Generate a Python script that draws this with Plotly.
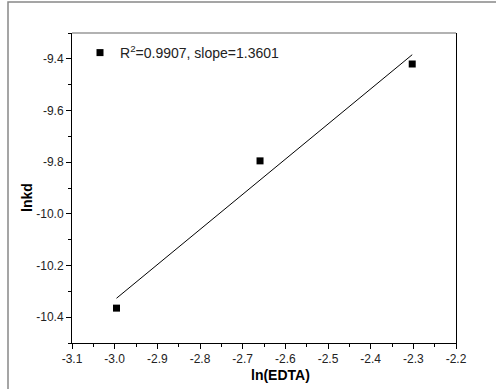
import numpy as np
import plotly.graph_objects as go

# Data
ln_edta = [-2.9957, -2.6593, -2.3026]
lnkd = [-10.365, -9.795, -9.42]
legend_label = "R<sup>2</sup>=0.9907, slope=1.3601"

x_tick_vals = [-3.1, -3.0, -2.9, -2.8, -2.7, -2.6, -2.5, -2.4, -2.3, -2.2]
x_tick_text = ["-3.1", "-3.0", "-2.9", "-2.8", "-2.7", "-2.6", "-2.5", "-2.4", "-2.3", "-2.2"]
y_tick_vals = [-10.4, -10.2, -10.0, -9.8, -9.6, -9.4]
y_tick_text = ["-10.4", "-10.2", "-10.0", "-9.8", "-9.6", "-9.4"]

# Linear fit over the data range
slope, intercept = np.polyfit(ln_edta, lnkd, 1)
fit_x = [min(ln_edta), max(ln_edta)]
fit_y = [slope * v + intercept for v in fit_x]

W, H = 496, 389
L, R, T, B = 72, 40, 33, 46
pw, ph = W - L - R, H - T - B

def px_x(p):
    return (p - L) / pw

def px_y(p):
    return (H - B - p) / ph

FONT = "Arial, Liberation Sans, sans-serif"

fig = go.Figure()
fig.add_trace(go.Scatter(
    x=ln_edta, y=lnkd, mode="markers",
    marker=dict(symbol="square", size=7, color="black"),
    name=legend_label, showlegend=True,
))
fig.add_trace(go.Scatter(
    x=fit_x, y=fit_y, mode="lines",
    line=dict(color="black", width=1),
    showlegend=False, hoverinfo="skip",
))

axis_common = dict(
    showgrid=False, zeroline=False, showline=True, linecolor="black", linewidth=1,
    ticks="outside", ticklen=5, tickwidth=1, tickcolor="black",
    tickfont=dict(family=FONT, size=12, color="#222"),
)

fig.update_xaxes(
    range=[-3.1, -2.2], tickvals=x_tick_vals, ticktext=x_tick_text,
    minor=dict(ticks="outside", ticklen=3, tickwidth=1, tickcolor="black", dtick=0.05, tick0=-3.1),
    mirror=False, **axis_common,
)
fig.update_yaxes(
    range=[-10.5, -9.3], tickvals=y_tick_vals, ticktext=y_tick_text,
    minor=dict(ticks="outside", ticklen=3, tickwidth=1, tickcolor="black", dtick=0.1, tick0=-10.5),
    mirror=True, **axis_common,
)

fig.update_layout(
    width=W, height=H,
    margin=dict(l=L, r=R, t=T, b=B, pad=0),
    paper_bgcolor="white", plot_bgcolor="white",
    font=dict(family=FONT, size=12, color="black"),
    legend=dict(
        x=px_x(80), y=px_y(37), xanchor="left", yanchor="top",
        bgcolor="rgba(0,0,0,0)", borderwidth=0,
        font=dict(family=FONT, size=14, color="#222"),
    ),
    shapes=[
        # top border of plot area
        dict(type="line", xref="paper", yref="paper", x0=0, x1=1, y0=1, y1=1,
             line=dict(color="#666", width=1.2)),
        # outer frame
        dict(type="rect", xref="paper", yref="paper",
             x0=px_x(8), x1=px_x(499), y0=px_y(392), y1=px_y(2),
             line=dict(color="#888", width=1.5)),
    ],
    annotations=[
        dict(text="<b>ln(EDTA)</b>", xref="paper", yref="paper",
             x=px_x(280), y=px_y(375), showarrow=False,
             xanchor="center", yanchor="middle",
             font=dict(family=FONT, size=14, color="black")),
        dict(text="<b>lnkd</b>", xref="paper", yref="paper",
             x=px_x(27), y=px_y(198), showarrow=False, textangle=-90,
             xanchor="center", yanchor="middle",
             font=dict(family=FONT, size=14, color="black")),
    ],
)

fig.write_html("out.html")
